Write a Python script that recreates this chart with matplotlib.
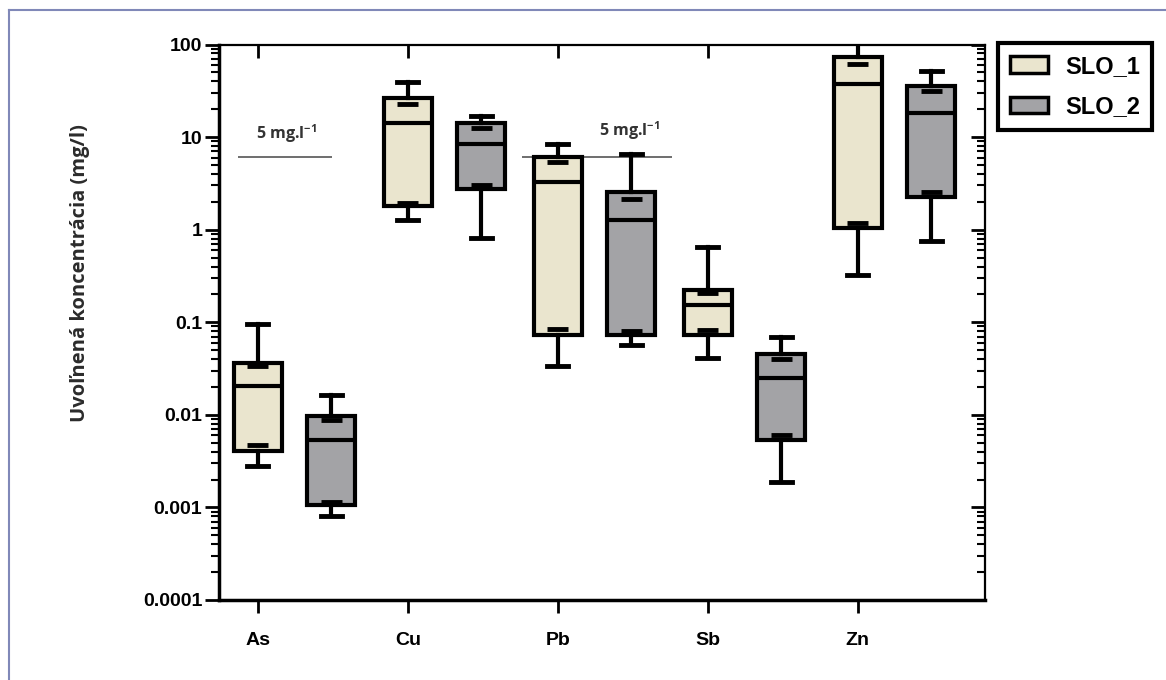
import numpy as np
import matplotlib
matplotlib.use("Agg")
import matplotlib.pyplot as plt
from matplotlib import ticker
from matplotlib.patches import Patch
from matplotlib.lines import Line2D, TICKLEFT, TICKDOWN

# --- data ---
categories = ['As', 'Cu', 'Pb', 'Sb', 'Zn']

slo1_whislo = [0.0028, 1.27, 0.034, 0.041, 0.32]
slo1_q1 = [0.0041, 1.79, 0.072, 0.072, 1.04]
slo1_lo_cap = [0.0047, 1.93, 0.084, 0.082, 1.18]
slo1_med = [0.0205, 14.2, 3.24, 0.152, 37.2]
slo1_hi_cap = [0.034, 22.8, 5.43, 0.209, 61.0]
slo1_q3 = [0.036, 26.4, 6.15, 0.225, 72.6]
slo1_whishi = [0.095, 39.0, 8.47, 0.65, 110.0]

slo2_whislo = [0.00081, 0.81, 0.0565, 0.0019, 0.755]
slo2_q1 = [0.00106, 2.72, 0.072, 0.0053, 2.23]
slo2_lo_cap = [0.00115, 3.0, 0.080, 0.0061, 2.53]
slo2_med = [0.0053, 8.47, 1.27, 0.025, 18.2]
slo2_hi_cap = [0.0087, 12.6, 2.13, 0.040, 31.4]
slo2_q3 = [0.0096, 14.2, 2.53, 0.0453, 35.5]
slo2_whishi = [0.0164, 16.9, 6.6, 0.070, 51.4]

limit_value = 6.1
limit_label = '5 mg.l$^{-1}$'

c1 = '#EAE5CE'
c2 = '#A3A3A6'

plt.rcParams['mathtext.default'] = 'regular'

fig = plt.figure(figsize=(11.66, 6.8), dpi=100)
ax = fig.add_axes([219 / 1166, 1 - 600 / 680, (985 - 219) / 1166, (600 - 44.5) / 680])


def make_stats(lo, q1, med, q3, hi):
    return [dict(whislo=a, q1=b, med=c, q3=d, whishi=e, fliers=[])
            for a, b, c, d, e in zip(lo, q1, med, q3, hi)]


x = np.arange(len(categories))
offset = 0.49
groups = [
    (x, c1, slo1_whislo, slo1_q1, slo1_med, slo1_q3, slo1_whishi, slo1_lo_cap, slo1_hi_cap),
    (x + offset, c2, slo2_whislo, slo2_q1, slo2_med, slo2_q3, slo2_whishi, slo2_lo_cap, slo2_hi_cap),
]
for pos, col, lo, q1, med, q3, hi, lcap, hcap in groups:
    ax.bxp(make_stats(lo, q1, med, q3, hi), positions=pos, widths=0.32,
           patch_artist=True, showfliers=False, manage_ticks=False,
           boxprops=dict(facecolor=col, edgecolor='black', linewidth=3, joinstyle='miter'),
           medianprops=dict(color='black', linewidth=3),
           whiskerprops=dict(color='black', linewidth=3),
           capprops=dict(color='black', linewidth=3.5),
           capwidths=0.14, zorder=3)
    # inner caps just inside the box edges
    ax.hlines(lcap, pos - 0.07, pos + 0.07, color='black', linewidth=3.5, zorder=4)
    ax.hlines(hcap, pos - 0.07, pos + 0.07, color='black', linewidth=3.5, zorder=4)

# limit lines
ax.hlines(limit_value, -0.133, 0.493, color='#555555', linewidth=1.2, zorder=2)
ax.hlines(limit_value, 1.76, 2.76, color='#555555', linewidth=1.2, zorder=2)
ax.text(0.19, 11.0, limit_label, ha='center', va='center', fontsize=11.5,
        family='Open Sans', fontweight='bold', color='#333333')
ax.text(2.48, 11.6, limit_label, ha='center', va='center', fontsize=11.5,
        family='Open Sans', fontweight='bold', color='#333333')

ax.set_yscale('log')
ax.set_ylim(0.0001, 100)
ax.set_xlim(-0.26, 4.85)

ax.set_xticks(x)
ax.set_xticklabels(categories)
ax.yaxis.set_major_locator(ticker.LogLocator(base=10, numticks=10))
ax.yaxis.set_minor_locator(ticker.LogLocator(base=10, subs=np.arange(2, 10), numticks=20))
ax.yaxis.set_major_formatter(ticker.FuncFormatter(lambda v, _: f'{v:g}'))
ax.yaxis.set_minor_formatter(ticker.NullFormatter())

for lab in ax.get_xticklabels() + ax.get_yticklabels():
    lab.set_family('Liberation Sans')
    lab.set_fontweight('bold')
    lab.set_fontsize(14)

ax.tick_params(axis='y', which='major', direction='out', length=10, width=2, pad=2, right=True)
ax.tick_params(axis='y', which='minor', direction='out', length=6, width=1.5, right=True)
ax.tick_params(axis='x', which='major', direction='out', length=9, width=2, pad=14, top=True)
# mirrored ticks point inward
for t in ax.yaxis.get_major_ticks() + ax.yaxis.get_minor_ticks():
    t.tick2line.set_marker(TICKLEFT)
for t in ax.xaxis.get_major_ticks():
    t.tick2line.set_marker(TICKDOWN)

for side in ['left', 'bottom']:
    ax.spines[side].set_linewidth(2.5)
for side in ['top', 'right']:
    ax.spines[side].set_linewidth(1.6)

ax.set_ylabel('Uvoľnená koncentrácia (mg/l)', family='Open Sans', fontsize=14.5,
              fontweight='bold', color='#2b2b2b')
ax.yaxis.set_label_coords(-0.168, 0.589)

handles = [Patch(facecolor=c1, edgecolor='black', linewidth=2.5, label='SLO_1'),
           Patch(facecolor=c2, edgecolor='black', linewidth=2.5, label='SLO_2')]
leg = fig.legend(handles=handles, loc='upper left',
                 bbox_to_anchor=(998 / 1166, 1 - 43 / 680),
                 prop=dict(family='Liberation Sans', weight='bold', size=17),
                 fancybox=False, framealpha=1, edgecolor='black',
                 handlelength=1.6, handleheight=0.68, labelspacing=0.75,
                 borderpad=0.5, handletextpad=0.75, borderaxespad=0)
leg.get_frame().set_linewidth(3)

# outer frame of the picture (only the top and left edges show)
frame_col = '#8088B8'
fig.add_artist(Line2D([9 / 1166, 1], [1 - 10 / 680] * 2, transform=fig.transFigure,
                      color=frame_col, linewidth=1.5))
fig.add_artist(Line2D([9 / 1166] * 2, [0, 1 - 10 / 680], transform=fig.transFigure,
                      color=frame_col, linewidth=1.5))

fig.savefig('out.png', dpi=100)
